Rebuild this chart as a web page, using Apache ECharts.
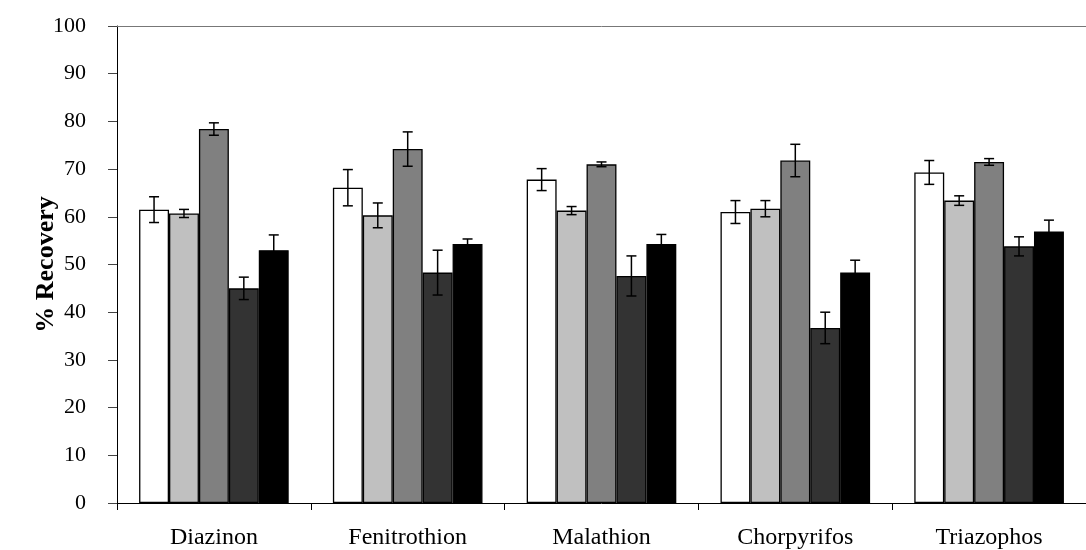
<!DOCTYPE html>
<html>
<head>
<meta charset="utf-8">
<script src="https://cdn.jsdelivr.net/npm/echarts@6/dist/echarts.min.js"></script>
<style>
  html, body { margin: 0; padding: 0; background: #fff; }
  #chart { width: 1086px; height: 550px; }
</style>
</head>
<body>
<div id="chart"></div>
<script>
// Pesticide recovery per compound, five treatments, mean with error
const categories = ['Diazinon', 'Fenitrothion', 'Malathion', 'Chorpyrifos', 'Triazophos'];
const seriesNames = ['Series 1', 'Series 2', 'Series 3', 'Series 4', 'Series 5'];
const seriesColors = ['#ffffff', '#c0c0c0', '#808080', '#333333', '#000000'];

const values1 = [61.5, 66.1, 67.8, 61.0, 69.3];
const values2 = [60.7, 60.3, 61.3, 61.7, 63.4];
const values3 = [78.4, 74.2, 71.0, 71.8, 71.5];
const values4 = [45.0, 48.3, 47.6, 36.7, 53.8];
const values5 = [53.0, 54.3, 54.3, 48.3, 56.9];

const errors1 = [2.7, 3.8, 2.3, 2.4, 2.5];
const errors2 = [0.85, 2.6, 0.85, 1.7, 1.0];
const errors3 = [1.3, 3.6, 0.5, 3.4, 0.7];
const errors4 = [2.35, 4.7, 4.2, 3.3, 2.0];
const errors5 = [3.2, 1.05, 2.0, 2.6, 2.4];

const yTicks = [0, 10, 20, 30, 40, 50, 60, 70, 80, 90, 100];

const allValues = [values1, values2, values3, values4, values5];
const allErrors = [errors1, errors2, errors3, errors4, errors5];

const CATEGORY_GAP = 0.228;
const FONT = '"Liberation Serif", "Times New Roman", serif';

// [categoryIndex, seriesIndex, low, high] for each error bar
const errorData = [];
allValues.forEach((vals, si) => {
  vals.forEach((v, ci) => {
    const e = allErrors[si][ci];
    errorData.push([ci, si, v - e, v + e]);
  });
});

const barSeries = allValues.map((vals, si) => ({
  name: seriesNames[si],
  type: 'bar',
  data: vals,
  barGap: '0%',
  barCategoryGap: (CATEGORY_GAP * 100) + '%',
  itemStyle: { color: seriesColors[si], borderColor: '#000', borderWidth: 1.3 },
  emphasis: { disabled: true },
  z: 2
}));

const errorSeries = {
  type: 'custom',
  data: errorData,
  encode: { x: 0, y: [2, 3] },
  z: 5,
  silent: true,
  renderItem: function (params, api) {
    const ci = api.value(0);
    const si = api.value(1);
    const lo = api.value(2);
    const hi = api.value(3);
    const band = api.size([1, 0])[0];
    const groupW = band * (1 - CATEGORY_GAP);
    const bw = groupW / allValues.length;
    const x = api.coord([ci, 0])[0] - groupW / 2 + bw * (si + 0.5);
    const yHi = api.coord([ci, hi])[1];
    const yLo = api.coord([ci, lo])[1];
    const cap = 5;
    const style = { stroke: '#000', lineWidth: 1.5 };
    return {
      type: 'group',
      children: [
        { type: 'line', shape: { x1: x, y1: yHi, x2: x, y2: yLo }, style: style },
        { type: 'line', shape: { x1: x - cap, y1: yHi, x2: x + cap, y2: yHi }, style: style },
        { type: 'line', shape: { x1: x - cap, y1: yLo, x2: x + cap, y2: yLo }, style: style }
      ]
    };
  }
};

const chart = echarts.init(document.getElementById('chart'), null, { renderer: 'canvas' });
chart.setOption({
  animation: false,
  backgroundColor: '#ffffff',
  grid: { left: 117, right: -9, top: 26, bottom: 47, containLabel: false },
  xAxis: [
    {
      type: 'category',
      data: categories,
      position: 'bottom',
      axisLine: { lineStyle: { color: '#000', width: 1 } },
      axisTick: { show: true, alignWithLabel: false, length: 7, lineStyle: { color: '#000' } },
      axisLabel: { color: '#000', fontFamily: FONT, fontSize: 24, margin: 23 },
      splitLine: { show: false }
    },
    {
      type: 'category',
      data: categories,
      position: 'top',
      axisLine: { lineStyle: { color: '#777', width: 1 } },
      axisTick: { show: false },
      axisLabel: { show: false },
      splitLine: { show: false }
    }
  ],
  yAxis: {
    type: 'value',
    min: yTicks[0],
    max: yTicks[yTicks.length - 1],
    interval: yTicks[1] - yTicks[0],
    axisLine: { show: true, lineStyle: { color: '#000', width: 1 } },
    axisTick: { show: true, length: 9, lineStyle: { color: '#444' } },
    axisLabel: { color: '#000', fontFamily: FONT, fontSize: 22, margin: 31 },
    splitLine: { show: false },
    name: '% Recovery',
    nameLocation: 'middle',
    nameRotate: 90,
    nameGap: 58,
    nameMoveOverlap: false,
    nameTextStyle: { color: '#000', fontFamily: FONT, fontSize: 26, fontWeight: 'bold' }
  },
  series: barSeries.concat([errorSeries])
});
</script>
</body>
</html>
